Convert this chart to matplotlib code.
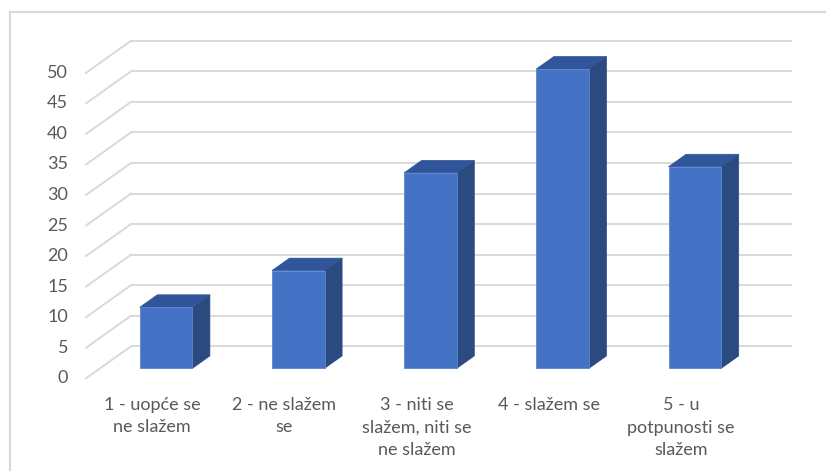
import matplotlib
matplotlib.use("Agg")
import matplotlib.pyplot as plt
from matplotlib.patches import Polygon
from matplotlib.lines import Line2D

categories = ["1 - uopće se\nne slažem", "2 - ne slažem\nse", "3 - niti se\nslažem, niti se\nne slažem",
              "4 - slažem se", "5 - u\npotpunosti se\nslažem"]
values = [10, 16, 32, 49, 33]
yticks = [0, 5, 10, 15, 20, 25, 30, 35, 40, 45, 50]

plt.rcParams['font.family'] = ['Lato', 'DejaVu Sans']

W, H = 826, 471
fig = plt.figure(figsize=(W / 100, H / 100), dpi=100)
ax = fig.add_axes([0, 0, 1, 1])
ax.set_axis_off()

# pixel mapping parameters
x0px, xsc = 86.0, 132.2      # front plane left edge, px per category
y0px, ysc = 378.3, 6.11      # front plane zero, px per unit
ax.set_xlim(-0.5 - x0px / xsc, -0.5 + (W - x0px) / xsc)
ax.set_ylim((y0px - H) / ysc, y0px / ysc)

dx = 45 / xsc     # depth offset in x units
dy = 32 / ysc     # depth offset in value units
n = len(categories)
grid_c = "#D9D9D9"
txt_c = "#595959"

# gridlines: back wall + diagonals on left side wall
for v in yticks:
    ax.plot([-0.5 + dx, n - 0.5 + dx], [v + dy, v + dy], color=grid_c, lw=1.4, zorder=1,
            solid_capstyle='butt')
    ax.plot([-0.5, -0.5 + dx], [v, v + dy], color=grid_c, lw=1.4, zorder=1)
    ax.text(-0.5 - 18 / xsc, v, str(v), ha='right', va='center', fontsize=13, color=txt_c)

# 3D bars
f0, f1 = 0.31, 0.70
bw = 52.6 / xsc
front_c, side_c, top_c = "#4472C4", "#2B4A80", "#30559B"
for i, v in enumerate(values):
    xl = i - bw / 2 + f0 * dx
    xr = xl + bw
    yb = f0 * dy
    yt = v + f0 * dy
    ddx = (f1 - f0) * dx
    ddy = (f1 - f0) * dy
    side = Polygon([(xr, yb), (xr + ddx, yb + ddy), (xr + ddx, yt + ddy), (xr, yt)],
                   closed=True, facecolor=side_c, edgecolor=side_c, lw=0.5, zorder=3)
    top = Polygon([(xl, yt), (xl + ddx, yt + ddy), (xr + ddx, yt + ddy), (xr, yt)],
                  closed=True, facecolor=top_c, edgecolor=top_c, lw=0.5, zorder=3)
    front = Polygon([(xl, yb), (xr, yb), (xr, yt), (xl, yt)],
                    closed=True, facecolor=front_c, edgecolor="#5A85CF", lw=0.6, zorder=4)
    ax.add_patch(side)
    ax.add_patch(top)
    ax.add_patch(front)

# category labels
for i, c in enumerate(categories):
    ax.text(i, (y0px - 397) / ysc, c, ha='center', va='top', fontsize=13, color=txt_c,
            linespacing=1.5)

# chart area border (partly cropped)
fig.add_artist(Line2D([10 / W, 1.0], [1 - 12 / H, 1 - 12 / H], transform=fig.transFigure,
                      color=grid_c, lw=1.5))
fig.add_artist(Line2D([10 / W, 10 / W], [0, 1 - 12 / H], transform=fig.transFigure,
                      color=grid_c, lw=1.5))

fig.savefig("out.png", dpi=100)
